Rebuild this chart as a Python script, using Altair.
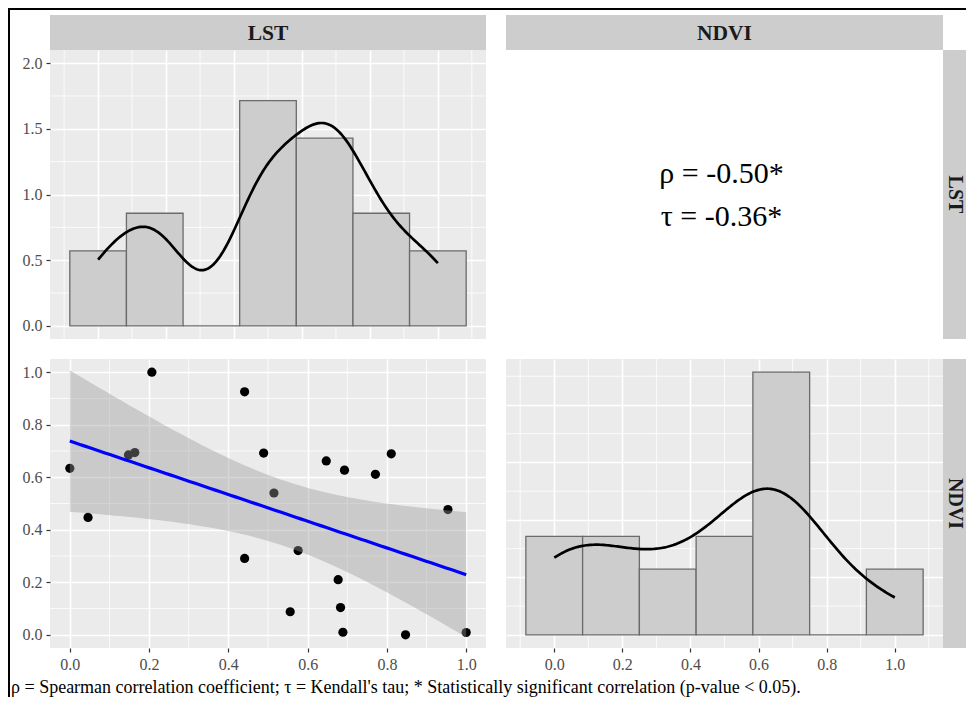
import altair as alt
import numpy as np
import pandas as pd

# ---------------- data ----------------
LST = [0.000, 0.046, 0.148, 0.164, 0.207, 0.441, 0.441, 0.489, 0.515, 0.556, 0.576,
       0.647, 0.677, 0.683, 0.689, 0.693, 0.771, 0.811, 0.847, 0.954, 1.000]
NDVI = [0.634, 0.447, 0.685, 0.694, 1.000, 0.925, 0.291, 0.692, 0.540, 0.088, 0.321,
        0.662, 0.210, 0.104, 0.010, 0.627, 0.611, 0.689, 0.000, 0.477, 0.009]
VAR_NAMES = ["LST", "NDVI"]
CORR_LINES = ["ρ = -0.50*", "τ = -0.36*"]
FOOTNOTE = ("ρ = Spearman correlation coefficient; τ = Kendall's tau; "
            "* Statistically significant correlation (p-value < 0.05).")

UNIT_TICKS = [0.0, 0.2, 0.4, 0.6, 0.8, 1.0]
UNIT_MINOR = [0.1, 0.3, 0.5, 0.7, 0.9]
HIST_X_MINOR = [-0.1, 0.1, 0.3, 0.5, 0.7, 0.9, 1.1]
DENS_TICKS = [0.0, 0.5, 1.0, 1.5, 2.0]
DENS_MINOR_TL = [0.25, 0.75, 1.25, 1.75]
DENS_MINOR_BR = [0.25, 0.75, 1.25, 1.75, 2.25]

BIN_WIDTH = 1 / 6
BIN_EDGES = [-1 / 12 + i * BIN_WIDTH for i in range(8)]
HIST_XDOM = [-0.14167, 1.14167]
SCAT_DOM = [-0.05, 1.05]
TL_YDOM = [-0.1, 2.1]
BR_YDOM = [-0.1143, 2.4]
T_975_DF19 = 2.093024

# ---------------- style ----------------
FONT = "Liberation Serif"
PANEL_BG = "#EBEBEB"
STRIP_BG = "#CDCDCD"
BAR_FILL = "#CDCDCD"
BAR_LINE = "#6B6B6B"
W1, W2, H = 436, 437, 289
STRIP_H, STRIP_W = 35, 23
LEFT_GAP, COL_GAP, ROW_GAP = 40, 20, 20
FRAME = 2
TOP_GAP = 5
BOTTOM_H = 49
FOOT_Y = 40
CORR_LINE_H = 42.5

DUMMY = pd.DataFrame({"d": [0]})


def blank(w, h, fill="transparent"):
    return (alt.Chart(DUMMY).mark_point(opacity=0, size=1, strokeWidth=0)
            .encode(x=alt.value(w / 2), y=alt.value(h / 2))
            .properties(width=w, height=h,
                        view=alt.ViewBackground(fill=fill, stroke="transparent")))


def axis(values, labels=True, grid=True):
    if labels:
        return alt.Axis(values=values, format=".1f", title=None, grid=grid,
                        domain=False, ticks=True, labels=True, labelFont=FONT,
                        labelFontSize=16, labelColor="#4D4D4D")
    return alt.Axis(values=values, title=None, grid=grid, domain=False,
                    ticks=False, labels=False)


def hist_table(values):
    counts, edges = np.histogram(np.array(values), bins=np.array(BIN_EDGES))
    n = len(values)
    return pd.DataFrame({"start": edges[:-1], "end": edges[1:],
                         "density": counts / (n * BIN_WIDTH)})


def bw_nrd0(values):
    v = np.array(values)
    sd = v.std(ddof=1)
    iqr = np.quantile(v, 0.75) - np.quantile(v, 0.25)
    lo = min(sd, iqr / 1.34)
    return 0.9 * lo * len(v) ** (-0.2)


def hist_panel(values, width, ydom, yminor, ylabels, xlabels):
    xs = alt.Scale(domain=HIST_XDOM, nice=False, zero=False)
    ys = alt.Scale(domain=ydom, nice=False, zero=False)
    xa = axis(UNIT_TICKS, labels=xlabels)
    ya = axis(DENS_TICKS, labels=ylabels)
    mx = alt.Chart(pd.DataFrame({"v": HIST_X_MINOR})).mark_rule(
        color="white", strokeWidth=0.8).encode(x=alt.X("v:Q", scale=xs, axis=xa))
    my = alt.Chart(pd.DataFrame({"v": yminor})).mark_rule(
        color="white", strokeWidth=0.8).encode(y=alt.Y("v:Q", scale=ys, axis=ya))
    bars = alt.Chart(hist_table(values)).mark_rect(
        fill=BAR_FILL, stroke=BAR_LINE, strokeWidth=1.3).encode(
        x=alt.X("start:Q", scale=xs, axis=xa), x2="end:Q",
        y=alt.Y("density:Q", scale=ys, axis=ya), y2=alt.datum(0))
    dens = alt.Chart(pd.DataFrame({"v": values})).transform_density(
        "v", as_=["v", "density"], bandwidth=float(bw_nrd0(values)),
        extent=[0, 1], steps=200).mark_line(color="black", strokeWidth=2.7).encode(
        x=alt.X("v:Q", scale=xs, axis=xa), y=alt.Y("density:Q", scale=ys, axis=ya))
    return alt.layer(mx, my, bars, dens).properties(
        width=width, height=H,
        view=alt.ViewBackground(fill=PANEL_BG, stroke="transparent"))


def scatter_panel():
    xs = alt.Scale(domain=SCAT_DOM, nice=False, zero=False)
    ys = alt.Scale(domain=SCAT_DOM, nice=False, zero=False)
    xa = axis(UNIT_TICKS)
    ya = axis(UNIT_TICKS)
    x = np.array(LST)
    y = np.array(NDVI)
    n = len(x)
    b1, b0 = np.polyfit(x, y, 1)
    resid = y - (b0 + b1 * x)
    s = np.sqrt((resid ** 2).sum() / (n - 2))
    sxx = ((x - x.mean()) ** 2).sum()
    xg = np.linspace(x.min(), x.max(), 80)
    fit = b0 + b1 * xg
    se = s * np.sqrt(1 / n + (xg - x.mean()) ** 2 / sxx)
    band = pd.DataFrame({"x": xg, "fit": fit,
                         "lo": fit - T_975_DF19 * se, "hi": fit + T_975_DF19 * se})
    pts = pd.DataFrame({"LST": LST, "NDVI": NDVI})

    mx = alt.Chart(pd.DataFrame({"v": UNIT_MINOR})).mark_rule(
        color="white", strokeWidth=0.8).encode(x=alt.X("v:Q", scale=xs, axis=xa))
    my = alt.Chart(pd.DataFrame({"v": UNIT_MINOR})).mark_rule(
        color="white", strokeWidth=0.8).encode(y=alt.Y("v:Q", scale=ys, axis=ya))
    points = alt.Chart(pts).mark_circle(size=85, color="black", opacity=1).encode(
        x=alt.X("LST:Q", scale=xs, axis=xa), y=alt.Y("NDVI:Q", scale=ys, axis=ya))
    ribbon = alt.Chart(band).mark_area(color="#999999", opacity=0.4).encode(
        x=alt.X("x:Q", scale=xs, axis=xa), y=alt.Y("lo:Q", scale=ys, axis=ya), y2="hi:Q")
    line = alt.Chart(band).mark_line(color="#0000FF", strokeWidth=3.2).encode(
        x=alt.X("x:Q", scale=xs, axis=xa), y=alt.Y("fit:Q", scale=ys, axis=ya))
    return alt.layer(mx, my, points, ribbon, line).properties(
        width=W1, height=H,
        view=alt.ViewBackground(fill=PANEL_BG, stroke="transparent"))


def corr_panel():
    return (alt.Chart(DUMMY).mark_text(text=CORR_LINES, font=FONT, fontSize=30,
                                       lineHeight=CORR_LINE_H, align="center",
                                       baseline="middle", color="black")
            .encode(x=alt.value(W2 / 2 - 3), y=alt.value(H / 2 - CORR_LINE_H / 2 + 1))
            .properties(width=W2, height=H,
                        view=alt.ViewBackground(fill="white", stroke="transparent")))


def top_strip(label, width):
    return (alt.Chart(DUMMY).mark_text(text=label, font=FONT, fontSize=21.5,
                                       fontWeight="bold", color="#1A1A1A",
                                       align="center", baseline="middle")
            .encode(x=alt.value(width / 2), y=alt.value(STRIP_H / 2 + 1))
            .properties(width=width, height=STRIP_H,
                        view=alt.ViewBackground(fill=STRIP_BG, stroke="transparent")))


def right_strip(label):
    return (alt.Chart(DUMMY).mark_text(text=label, font=FONT, fontSize=20,
                                       fontWeight="bold", color="#1A1A1A", angle=90,
                                       align="center", baseline="middle")
            .encode(x=alt.value(STRIP_W / 2), y=alt.value(H / 2))
            .properties(width=STRIP_W, height=H,
                        view=alt.ViewBackground(fill=STRIP_BG, stroke="transparent")))


def footnote():
    return (alt.Chart(DUMMY).mark_text(text=FOOTNOTE, font=FONT, fontSize=18,
                                       align="left", baseline="middle", color="black")
            .encode(x=alt.value(1), y=alt.value(FOOT_Y))
            .properties(width=LEFT_GAP, height=BOTTOM_H,
                        view=alt.ViewBackground(fill="transparent", stroke="transparent")))


col_w = [FRAME, LEFT_GAP, W1, COL_GAP, W2, STRIP_W]
row_h = [FRAME, TOP_GAP, STRIP_H, H, ROW_GAP, H, BOTTOM_H]

cells = {}
for c, w in enumerate(col_w):
    cells[(0, c)] = blank(w, FRAME, "black")
for r, h in enumerate(row_h):
    cells[(r, 0)] = blank(FRAME, h, "black")
cells[(2, 2)] = top_strip(VAR_NAMES[0], W1)
cells[(2, 4)] = top_strip(VAR_NAMES[1], W2)
cells[(3, 2)] = hist_panel(LST, W1, TL_YDOM, DENS_MINOR_TL, True, False)
cells[(3, 4)] = corr_panel()
cells[(3, 5)] = right_strip(VAR_NAMES[0])
cells[(5, 2)] = scatter_panel()
cells[(5, 4)] = hist_panel(NDVI, W2, BR_YDOM, DENS_MINOR_BR, False, True)
cells[(5, 5)] = right_strip(VAR_NAMES[1])
cells[(6, 1)] = footnote()

ordered = []
for r, h in enumerate(row_h):
    for c, w in enumerate(col_w):
        ordered.append(cells.get((r, c), blank(w, h)))

chart = alt.concat(*ordered, columns=len(col_w), spacing=0, bounds="flush",
                   align="each").properties(padding=0).configure_view(
    strokeWidth=0).configure_axis(
    labelFont=FONT, labelFontSize=16, labelColor="#4D4D4D", tickColor="#333333",
    tickSize=4, tickWidth=1.2, labelPadding=4, gridColor="white", gridWidth=1.6,
    domain=False).configure_concat(spacing=0)

chart.save("out.html", embed_options={"renderer": "svg", "actions": False})
